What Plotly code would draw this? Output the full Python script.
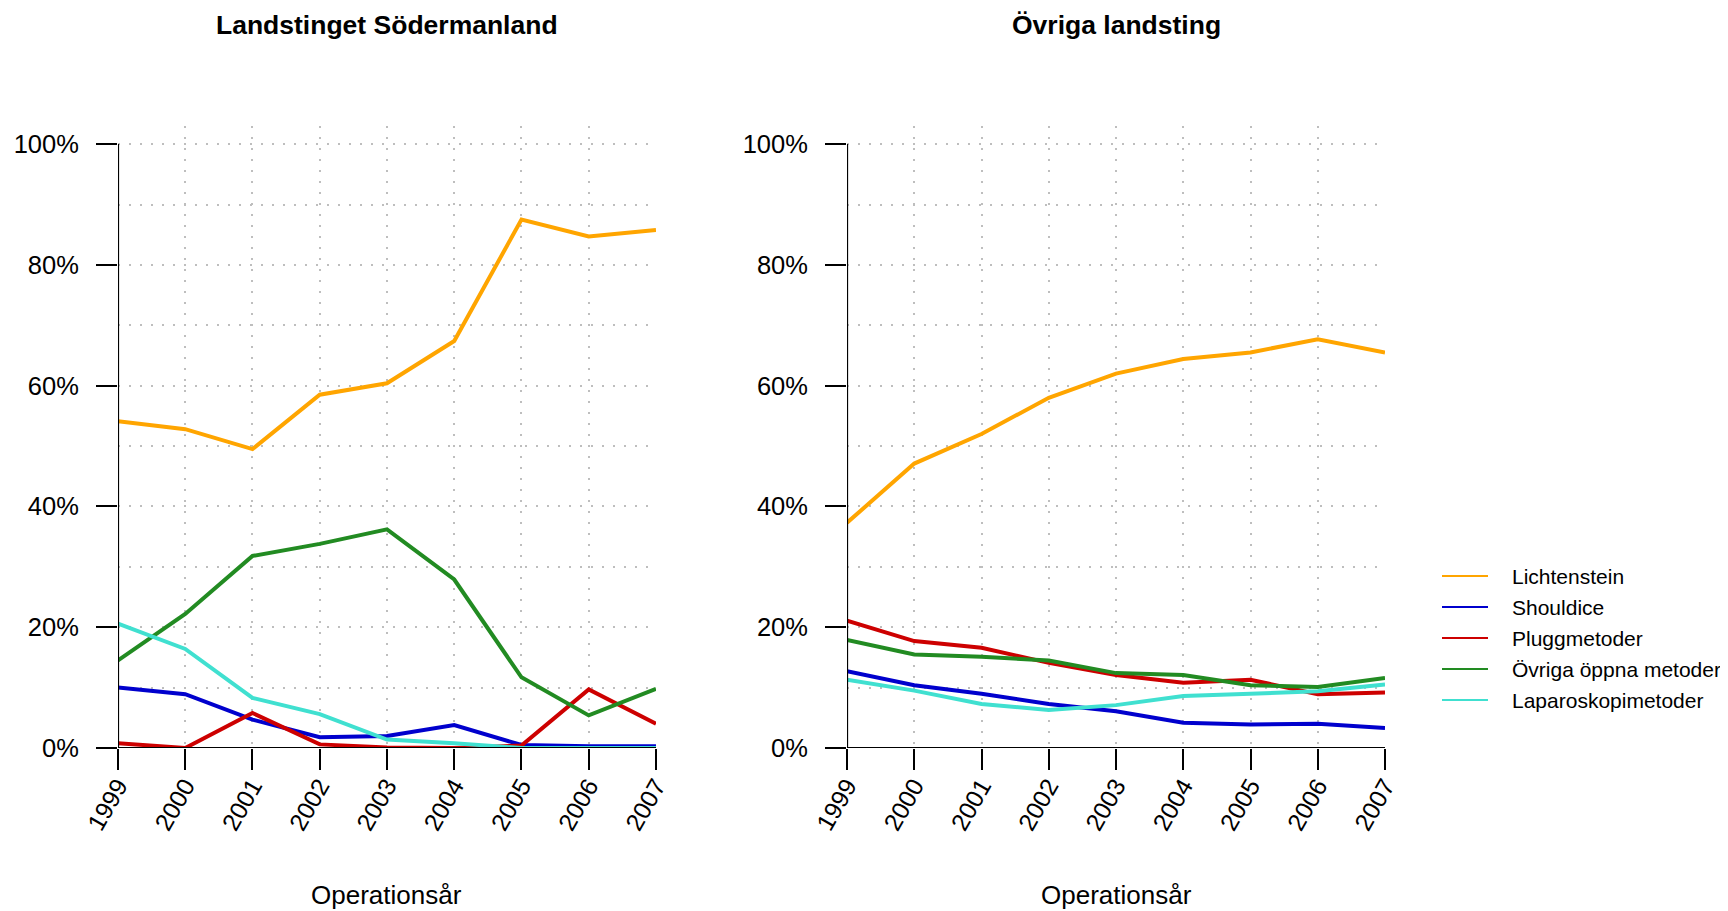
import plotly.graph_objects as go
from plotly.subplots import make_subplots

years = [1999, 2000, 2001, 2002, 2003, 2004, 2005, 2006, 2007]
methods = ["Lichtenstein", "Shouldice", "Pluggmetoder", "Övriga öppna metoder", "Laparoskopimetoder"]
colors = ["#FFA500", "#0000CD", "#CD0000", "#228B22", "#40E0D0"]
panel_titles = ["Landstinget Södermanland", "Övriga landsting"]
x_title = "Operationsår"
y_ticks = [0, 0.2, 0.4, 0.6, 0.8, 1.0]
y_tick_labels = ["0%", "20%", "40%", "60%", "80%", "100%"]

# Landstinget Södermanland (share of operations)
sod_lichtenstein = [0.541, 0.528, 0.495, 0.585, 0.604, 0.674, 0.875, 0.847, 0.858]
sod_shouldice = [0.100, 0.089, 0.047, 0.018, 0.020, 0.038, 0.005, 0.003, 0.003]
sod_plugg = [0.008, 0.000, 0.058, 0.006, 0.001, 0.000, 0.004, 0.097, 0.040]
sod_ovriga = [0.145, 0.222, 0.318, 0.338, 0.362, 0.279, 0.117, 0.054, 0.098]
sod_lap = [0.206, 0.164, 0.083, 0.056, 0.014, 0.008, 0.000, 0.000, 0.000]

# Övriga landsting
ovr_lichtenstein = [0.373, 0.471, 0.520, 0.580, 0.620, 0.644, 0.655, 0.677, 0.655]
ovr_shouldice = [0.127, 0.104, 0.090, 0.073, 0.061, 0.042, 0.039, 0.040, 0.033]
ovr_plugg = [0.211, 0.177, 0.166, 0.141, 0.121, 0.108, 0.113, 0.089, 0.092]
ovr_ovriga = [0.179, 0.155, 0.151, 0.145, 0.124, 0.121, 0.104, 0.101, 0.116]
ovr_lap = [0.113, 0.095, 0.073, 0.063, 0.071, 0.086, 0.090, 0.094, 0.105]

panels = [
    [sod_lichtenstein, sod_shouldice, sod_plugg, sod_ovriga, sod_lap],
    [ovr_lichtenstein, ovr_shouldice, ovr_plugg, ovr_ovriga, ovr_lap],
]

FONT = "Liberation Sans, Arial, Helvetica, sans-serif"

# figure geometry (page body has an 8px margin)
W, H = 1720, 903
ML, MR, MT, MB = 110, 343, 118, 163
PW = W - ML - MR
PH = H - MT - MB

fig = make_subplots(rows=1, cols=2, horizontal_spacing=0.1508)

for p, series in enumerate(panels):
    for name, vals, col in zip(methods, series, colors):
        fig.add_trace(
            go.Scatter(x=years, y=vals, mode="lines", name=name,
                       line=dict(color=col, width=4), showlegend=False,
                       hovertemplate=name + ": %{y:.1%}<extra></extra>"),
            row=1, col=p + 1)

grid = dict(showgrid=True, gridcolor="#BEBEBE", gridwidth=2, griddash="2px,9px")
for c in (1, 2):
    fig.update_xaxes(range=[years[0], years[-1]], tickvals=years,
                     ticktext=[str(y) for y in years], tickangle=-60,
                     ticks="outside", ticklen=21, tickwidth=2, tickcolor="black",
                     ticklabelstandoff=-8, automargin=False,
                     showline=False, zeroline=False, **grid,
                     tickfont=dict(family=FONT, size=24.5, color="black"),
                     row=1, col=c)
    fig.update_yaxes(range=[0, 1.03], tickvals=y_ticks, ticktext=y_tick_labels,
                     ticks="outside", ticklen=21, tickwidth=2, tickcolor="black",
                     ticklabelstandoff=12, automargin=False,
                     showline=False, zeroline=False, **grid,
                     minor=dict(dtick=0.1, tick0=0, ticks="", **grid),
                     tickfont=dict(family=FONT, size=25.5, color="black"),
                     row=1, col=c)
    xr = "x" if c == 1 else "x2"
    yr = "y" if c == 1 else "y2"
    fig.add_shape(type="line", xref=xr, yref=yr, x0=years[0], x1=years[0],
                  y0=0, y1=1.0, line=dict(color="black", width=2.2), layer="above")
    fig.add_shape(type="line", xref=xr, yref=yr, x0=years[0], x1=years[-1],
                  y0=0, y1=0, line=dict(color="black", width=2.2), layer="above")

dom1 = fig.layout.xaxis.domain
dom2 = fig.layout.xaxis2.domain
for dom, title in zip([dom1, dom2], panel_titles):
    cx = (dom[0] + dom[1]) / 2
    fig.add_annotation(text="<b>" + title + "</b>", x=cx, y=1.163, xref="paper",
                       yref="paper", showarrow=False, xanchor="center", yanchor="middle",
                       font=dict(family=FONT, size=26.5, color="black"))
    fig.add_annotation(text=x_title, x=cx, y=-0.237, xref="paper", yref="paper",
                       showarrow=False, xanchor="center", yanchor="middle", borderpad=0,
                       font=dict(family=FONT, size=26, color="black"))

# legend (drawn as keys + labels, R style without box)
key_x0 = (1434 - ML) / PW
key_x1 = (1480 - ML) / PW
text_x = (1502 - ML) / PW
row_top = (PH - (568 - MT)) / PH
row_step = 31 / PH
for i, (name, col) in enumerate(zip(methods, colors)):
    yy = row_top - i * row_step
    fig.add_shape(type="line", xref="paper", yref="paper", x0=key_x0, x1=key_x1,
                  y0=yy, y1=yy, line=dict(color=col, width=2))
    fig.add_annotation(text=name, x=text_x, y=yy, xref="paper", yref="paper",
                       showarrow=False, xanchor="left", yanchor="middle",
                       font=dict(family=FONT, size=21, color="black"))

fig.update_layout(
    width=W, height=H,
    margin=dict(l=ML, r=MR, t=MT, b=MB, autoexpand=False),
    paper_bgcolor="white", plot_bgcolor="white",
    showlegend=False,
    font=dict(family=FONT, color="black"),
)

fig.write_html("out.html")
